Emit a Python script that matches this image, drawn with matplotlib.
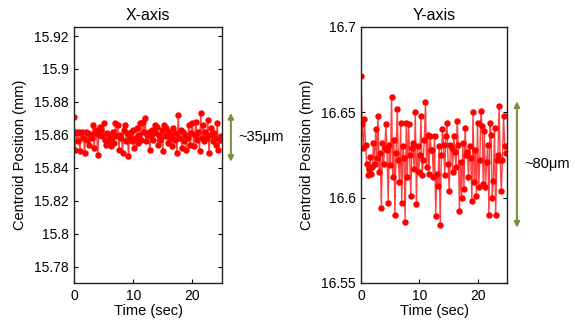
import numpy as np
import matplotlib
matplotlib.use("Agg")
import matplotlib.pyplot as plt

plt.rcParams['font.family'] = ['Liberation Sans', 'DejaVu Sans']

# ---- data ----
x_pos = [15.871, 15.851, 15.862, 15.856, 15.862, 15.850, 15.861, 15.862, 15.858, 15.849,
         15.862, 15.857, 15.861, 15.854, 15.860, 15.858, 15.866, 15.852, 15.861, 15.863,
         15.848, 15.860, 15.865, 15.863, 15.859, 15.867, 15.857, 15.854, 15.861, 15.856,
         15.860, 15.853, 15.858, 15.862, 15.855, 15.867, 15.859, 15.866, 15.851, 15.860,
         15.858, 15.849, 15.863, 15.866, 15.856, 15.861, 15.847, 15.858, 15.862, 15.856,
         15.863, 15.852, 15.858, 15.864, 15.855, 15.860, 15.867, 15.857, 15.868, 15.862,
         15.870, 15.856, 15.860, 15.862, 15.851, 15.859, 15.863, 15.857, 15.866, 15.861,
         15.865, 15.854, 15.860, 15.857, 15.863, 15.850, 15.866, 15.859, 15.864, 15.855,
         15.862, 15.858, 15.860, 15.853, 15.864, 15.857, 15.861, 15.849, 15.872, 15.858,
         15.863, 15.852, 15.862, 15.856, 15.860, 15.851, 15.858, 15.866, 15.854, 15.861,
         15.867, 15.853, 15.860, 15.868, 15.857, 15.862, 15.850, 15.873, 15.858, 15.866,
         15.856, 15.862, 15.858, 15.869, 15.849, 15.860, 15.864, 15.856, 15.861, 15.858,
         15.854, 15.867, 15.851, 15.857, 15.859]

y_pos = [16.671, 16.643, 16.629, 16.646, 16.631, 16.620, 16.613, 16.617, 16.624, 16.614,
         16.618, 16.632, 16.620, 16.640, 16.623, 16.648, 16.615, 16.626, 16.594, 16.632,
         16.620, 16.629, 16.643, 16.628, 16.597, 16.631, 16.619, 16.659, 16.612, 16.634,
         16.590, 16.626, 16.652, 16.622, 16.609, 16.644, 16.597, 16.630, 16.623, 16.586,
         16.644, 16.612, 16.643, 16.625, 16.601, 16.629, 16.632, 16.617, 16.650, 16.596,
         16.630, 16.615, 16.625, 16.648, 16.613, 16.622, 16.634, 16.656, 16.618, 16.637,
         16.614, 16.636, 16.628, 16.628, 16.612, 16.636, 16.589, 16.614, 16.607, 16.630,
         16.584, 16.625, 16.640, 16.631, 16.613, 16.636, 16.644, 16.620, 16.604, 16.631,
         16.629, 16.615, 16.636, 16.627, 16.618, 16.645, 16.631, 16.592, 16.621, 16.600,
         16.632, 16.605, 16.641, 16.625, 16.627, 16.612, 16.630, 16.623, 16.598, 16.650,
         16.609, 16.628, 16.601, 16.644, 16.606, 16.622, 16.651, 16.642, 16.608, 16.639,
         16.606, 16.621, 16.631, 16.590, 16.644, 16.637, 16.600, 16.610, 16.641, 16.590,
         16.622, 16.625, 16.654, 16.622, 16.604, 16.622, 16.648, 16.630, 16.626]

t_end = 24.8
x_time = np.linspace(0, t_end, len(x_pos))
y_time = np.linspace(0, t_end, len(y_pos))

titles = ["X-axis", "Y-axis"]
x_ticks = [0, 10, 20]
x_yticks = [15.78, 15.8, 15.82, 15.84, 15.86, 15.88, 15.9, 15.92]
x_yticklabels = ["15.78", "15.8", "15.82", "15.84", "15.86", "15.88", "15.9", "15.92"]
y_yticks = [16.55, 16.6, 16.65, 16.7]
y_yticklabels = ["16.55", "16.6", "16.65", "16.7"]
spread_labels = ["~35\u03bcm", "~80\u03bcm"]
spread_ranges = [(15.8436, 15.8733), (16.5824, 16.6565)]

red = '#ff0000'
green = '#77933C'

fig = plt.figure(figsize=(5.75, 3.25), dpi=100)
ax1 = fig.add_axes([74/575, 1-283/325, 148/575, 256/325])
ax2 = fig.add_axes([361/575, 1-283/325, 146/575, 256/325])

def style(ax):
    ax.tick_params(direction='in', length=3, width=0.8, labelsize=10,
                   top=False, right=True, pad=4)
    for s in ax.spines.values():
        s.set_linewidth(1.0)
        s.set_color('#222222')

for ax, tt, vals in [(ax1, x_time, x_pos), (ax2, y_time, y_pos)]:
    ax.plot(tt, vals, '-', color=red, lw=1.0, alpha=0.75)
    ax.plot(tt, vals, 'o', color=red, ms=3.6, mec=red, mfc=red)

ax1.set_xlim(0, 25)
ax1.set_ylim(15.770, 15.9255)
ax1.set_yticks(x_yticks)
ax1.set_yticklabels(x_yticklabels)
ax1.set_xticks(x_ticks)
ax1.set_title(titles[0], fontsize=11.5, pad=5)
ax1.set_xlabel("Time (sec)", fontsize=10.5, labelpad=1)
ax1.set_ylabel("Centroid Position (mm)", fontsize=10.5, labelpad=5)
style(ax1)

ax2.set_xlim(0, 25)
ax2.set_ylim(16.55, 16.70)
ax2.set_yticks(y_yticks)
ax2.set_yticklabels(y_yticklabels)
ax2.set_xticks(x_ticks)
ax2.set_title(titles[1], fontsize=11.5, pad=5)
ax2.set_xlabel("Time (sec)", fontsize=10.5, labelpad=1)
ax2.set_ylabel("Centroid Position (mm)", fontsize=10.5, labelpad=5)
style(ax2)

for ax, (lo, hi), lab, xa in [(ax1, spread_ranges[0], spread_labels[0], 1.06),
                              (ax2, spread_ranges[1], spread_labels[1], 1.068)]:
    ax.annotate('', xy=(xa, hi), xytext=(xa, lo),
                xycoords=('axes fraction', 'data'), textcoords=('axes fraction', 'data'),
                arrowprops=dict(arrowstyle='<|-|>', color=green, lw=1.5,
                                mutation_scale=8, shrinkA=0, shrinkB=0),
                annotation_clip=False)
    ax.text(xa + 0.05, (lo + hi) / 2, lab, transform=ax.get_yaxis_transform(),
            va='center', ha='left', fontsize=10.5, clip_on=False)

fig.savefig("out.png", dpi=100)
